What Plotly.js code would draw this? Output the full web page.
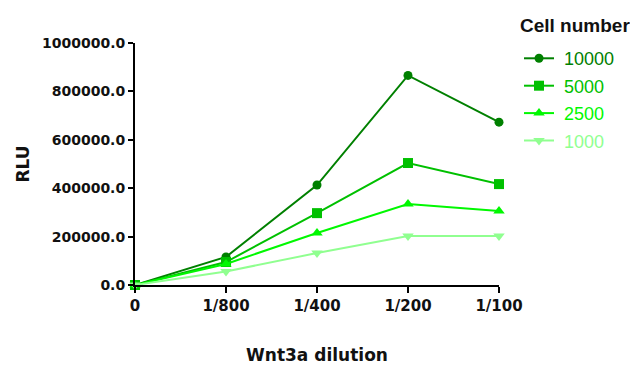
<!DOCTYPE html>
<html><head><meta charset="utf-8">
<script src="https://cdn.plot.ly/plotly-3.0.1.min.js"></script>
<style>body{margin:0;background:#fff}#c{width:630px;height:365px}</style>
</head><body><div id="c"></div>
<script>
const categories = ["0", "1/800", "1/400", "1/200", "1/100"];
const seriesNames = ["10000", "5000", "2500", "1000"];
const s10000 = [0, 116000, 413000, 866000, 673000];
const s5000  = [0, 95000, 297000, 504000, 417000];
const s2500  = [0, 87000, 215000, 335000, 306000];
const s1000  = [0, 56000, 132000, 202000, 202000];
const yTicks = [0, 200000, 400000, 600000, 800000, 1000000];

const colors = ["#008000", "#00c000", "#00f800", "#90ff90"];
const symbols = ["circle", "square", "triangle-up", "triangle-down"];
const sizes = [9, 10, 10, 10];
const allSeries = [s10000, s5000, s2500, s1000];
const xIdx = categories.map((c, i) => i);

const traces = allSeries.map((vals, k) => ({
  x: xIdx, y: vals, type: "scatter", mode: "lines+markers",
  name: '<span style="color:' + colors[k] + '">\u00a0' + seriesNames[k] + '</span>',
  legendgroup: "g" + k,
  line: {color: colors[k], width: 2},
  marker: {color: colors[k], symbol: symbols[k], size: sizes[k]},
  cliponaxis: false
}));

const boldFont = "DejaVu Sans, sans-serif";
const layout = {
  width: 630, height: 365,
  margin: {l: 135, r: 131, t: 43, b: 80, autoexpand: false},
  paper_bgcolor: "#fff", plot_bgcolor: "#fff",
  font: {family: "Liberation Sans, Arial, sans-serif", color: "#111"},
  showlegend: true,
  legend: {
    x: 1.055, xanchor: "left", y: 1.012, yanchor: "top",
    font: {size: 18, color: "#222", family: "Liberation Sans, Arial, sans-serif"},
    itemwidth: 30, tracegroupgap: 1, bgcolor: "rgba(0,0,0,0)"
  },
  annotations: [{
    text: "<b>Cell number</b>", xref: "paper", yref: "paper",
    x: (518 - 135) / 364, xanchor: "left", y: 1 + (43 - 26) / 242, yanchor: "middle",
    showarrow: false, font: {size: 19, color: "#111", family: "Liberation Sans, Arial, sans-serif"}
  }],
  xaxis: {
    range: [0, 4], tickvals: xIdx, ticktext: categories,
    showgrid: false, zeroline: false, showline: true, linecolor: "#000", linewidth: 2,
    ticks: "outside", ticklen: 6, tickwidth: 2, tickcolor: "#000",
    tickfont: {size: 15, color: "#111", family: boldFont, weight: "bold"},
    title: {text: "Wnt3a dilution", font: {size: 17, color: "#111", family: boldFont, weight: "bold"}, standoff: 41}
  },
  yaxis: {
    range: [0, 1000000], tickvals: yTicks, tickformat: ".1f",
    showgrid: false, zeroline: false, showline: true, linecolor: "#000", linewidth: 2,
    ticks: "outside", ticklen: 5, tickwidth: 2, tickcolor: "#000",
    tickfont: {size: 14, color: "#111", family: boldFont, weight: "bold"},
    title: {text: "RLU", font: {size: 17, color: "#111", family: boldFont, weight: "bold"}, standoff: 8}
  }
};
Plotly.newPlot("c", traces, layout, {displayModeBar: false, staticPlot: true});
</script></body></html>
